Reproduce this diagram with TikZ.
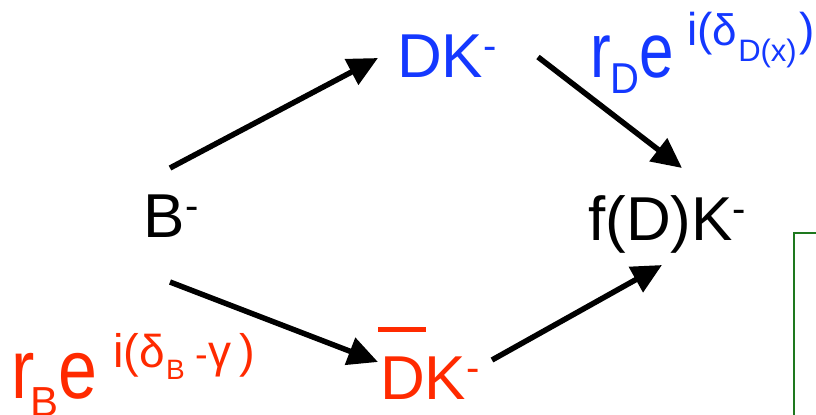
\documentclass[tikz,border=0pt]{standalone}
\usepackage{graphicx}
\usepackage{fontspec}
\setmainfont{Liberation Sans}
\usetikzlibrary{arrows.meta}
\definecolor{myblue}{RGB}{20,56,255}
\definecolor{myred}{RGB}{255,42,0}
\definecolor{mygreen}{RGB}{30,120,30}
\newcommand{\fs}[1]{\fontsize{#1bp}{#1bp}\selectfont}
\newcommand{\vs}[2]{\scalebox{1}[#1]{#2}}
\newcommand{\supm}{\raisebox{18bp}{\fs{40}-}}
\begin{document}
\begin{tikzpicture}[x=1bp,y=-1bp,
  lbl/.style={inner sep=0pt, anchor=base west, font=\fs{62}},
  arr/.style={line width=5.5bp, -{Triangle[length=30bp,width=28bp]}},
  frame/.style={draw=mygreen, line width=2bp}]
\clip (0,0) rectangle (816,414);
% particle nodes
\node[lbl] (B) at (143.5,237) {B\supm};
\node[lbl, text=myblue] (DK) at (397,77) {DK\supm};
\node[lbl] (fDK) at (588,240) {f(D)K\supm};
\node[lbl, text=myred] (DKb) at (380,399) {DK\supm};
\draw[myred, line width=5bp] ([shift={(-2,-70)}]DKb.base west) -- ([shift={(46,-70)}]DKb.base west);
% amplitude labels
\node[lbl, text=myblue] (rD) at (590,77)
  {\vs{1.25}{r}\raisebox{-16bp}{\fs{40}\vs{1.08}{D}}\vs{1.25}{e}\hspace{13bp}\raisebox{32bp}{\fs{46}i(\fs{44}δ\hspace{1bp}\raisebox{-16bp}{\fs{31}D(x)}\hspace{3bp}\fs{46})}};
\node[lbl, text=myred, font=\fs{70}] (rB) at (11,398)
  {\vs{1.2}{r}\hspace{-4bp}\raisebox{-18bp}{\fs{42}B}\vs{1.2}{e}\hspace{16bp}\raisebox{31bp}{\fs{47}i(\fs{46}δ\hspace{1bp}\raisebox{-12bp}{\fs{28}B}\hspace{11bp}\fs{38}-\fs{46}γ\hspace{8bp}\fs{47})}};
% connectors
\draw[arr] ([shift={(26.5,-69)}]B.base west) -- ([shift={(-19,-19)}]DK.base west);
\draw[arr] ([shift={(26.5,45)}]B.base west) -- ([shift={(-2,-37)}]DKb.base west);
\draw[arr] ([shift={(141,-20)}]DK.base west) -- ([shift={(94,-72)}]fDK.base west);
\draw[arr] ([shift={(112,-39)}]DKb.base west) -- ([shift={(74,25)}]fDK.base west);
% green frame, partly outside the picture
\draw[frame] (794,233) rectangle (860,460);
\end{tikzpicture}
\end{document}
